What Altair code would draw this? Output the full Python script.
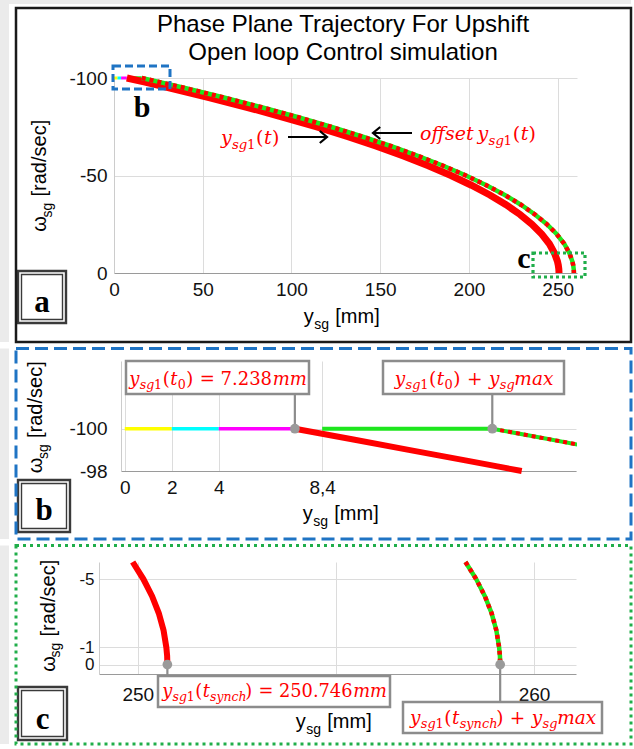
import altair as alt
import pandas as pd

# ---------------- values ----------------
# panel a : full trajectory y_sg1(t)  (omega_sg [rad/sec] vs y_sg [mm])
OMEGA_A = [-100, -98, -95, -90, -85, -80, -75, -70, -65, -60, -55, -50,
           -45, -40, -35, -30, -25, -20, -15, -10, -6, -4, -2, -1, 0]
YSG_A = [7.238, 16.9, 31.0, 53.5, 74.8, 94.9, 113.8, 131.4, 147.9, 163.1, 177.1, 189.9,
         201.4, 211.8, 220.9, 228.8, 235.5, 241.0, 245.3, 248.3, 249.87, 250.36, 250.65, 250.72, 250.746]
# panel b : zoom on the start of the trajectory
OMEGA_B = [-100, -99.5, -99, -98.5, -98]
YSG_B = [7.238, 9.67, 12.08, 14.49, 16.89]
# panel c : zoom on the end of the trajectory
OMEGA_C = [-6, -5, -4, -3, -2, -1, -0.5, 0]
YSG_C = [249.87, 250.14, 250.36, 250.53, 250.65, 250.72, 250.74, 250.746]
# phases before t0 (omega = -100)
PHASES = ["phase 1", "phase 2", "phase 3"]
PHASE_START = [0, 2, 4]
PHASE_END = [2, 4, 7.238]
OMEGA_START = -100
OMEGA_SYNCH = 0
Y_T0 = 7.238
Y_TSYNCH = 250.746
YSG_MAX = 8.4
# ticks
A_XTICKS = [0, 50, 100, 150, 200, 250]
A_YTICKS = [-100, -50, 0]
B_XTICKS = [0, 2, 4, 8.4]
B_YTICKS = [-100, -98]
C_XTICKS = [250, 255, 260]
C_YTICKS = [-5, -1, 0]
TITLE = ["Phase Plane Trajectory For Upshift", "Open loop Control simulation"]

# ---------------- styles ----------------
RED = "#ff0000"
GREEN = "#1ee61e"
PHASE_COLORS = ["#ffff00", "#00ffff", "#ff00ff"]
BLUE = "#1f74c4"
DGREEN = "#20ae4a"
GREY = "#8c8c8c"
SANS = "Liberation Sans"
MATH = "DejaVu Serif"
BOLD = "Liberation Serif"

_DIG = {d: 0.636 for d in "0123456789"}
WID = {
    "mi": {"y": 0.55, "s": 0.48, "g": 0.60, "t": 0.38, "m": 0.90, "a": 0.56, "x": 0.55,
           "n": 0.61, "c": 0.52, "h": 0.61, "o": 0.57, "f": 0.35, "e": 0.55, " ": 0.318},
    "mr": dict(_DIG, **{"(": 0.39, ")": 0.39, "=": 0.838, "+": 0.838, " ": 0.318, ".": 0.318}),
    "sr": {"ω": 0.69, "s": 0.5, "g": 0.556, " ": 0.278, "[": 0.278, "]": 0.278, "r": 0.333,
           "a": 0.556, "d": 0.556, "/": 0.278, "e": 0.556, "c": 0.5, "y": 0.5, "m": 0.833},
}
# key -> (font, style, weight, align)
FONTS = {"mi": (MATH, "italic", "normal", "left"), "mr": (MATH, "normal", "normal", "left"),
         "sr": (SANS, "normal", "normal", "left"), "sc": (SANS, "normal", "normal", "center"),
         "bc": (BOLD, "normal", "bold", "center")}
GAP = 0.6  # px between runs


def tw(text, key, fs):
    return sum(WID[key].get(ch, 0.6) for ch in text) * fs


def runs(tokens, x0, y0, size, color, fam, anchor="middle", angle=0, shift=0.24):
    items = []
    for text, style, sub in tokens:
        fs = size * 0.7 if sub else size
        key = fam + style
        items.append((text, key, sub, fs, tw(text, key, fs) + GAP))
    total = sum(it[4] for it in items)
    u = -total / 2 if anchor == "middle" else 0.0
    rows = []
    for text, key, sub, fs, w in items:
        core = text.strip(" ")
        lead = tw(text[: len(text) - len(text.lstrip(" "))], key, fs)
        v = size * shift if sub else 0.0
        if angle:
            x, y = x0 + v, y0 - (u + lead)
        else:
            x, y = x0 + u + lead, y0 + v
        if core:
            rows.append({"x": x, "y": y, "t": core, "s": fs, "c": color, "a": angle, "k": key})
        u += w
    return rows


def single(text, x, y, size, color, key):
    return [{"x": x, "y": y, "t": text, "s": size, "c": color, "a": 0, "k": key}]


def text_layers(rows):
    df = pd.DataFrame(rows)
    out = []
    for k, (font, style, weight, align) in FONTS.items():
        sub = df[df.k == k].drop(columns="k")
        if len(sub) == 0:
            continue
        out.append(alt.Chart(sub).mark_text(font=font, fontStyle=style, fontWeight=weight,
                                            align=align, baseline="alphabetic").encode(
            x=alt.X("x:Q", scale=None, axis=None), y=alt.Y("y:Q", scale=None, axis=None),
            text="t:N", size=alt.Size("s:Q", scale=None, legend=None),
            color=alt.Color("c:N", scale=None, legend=None), angle=alt.Angle("a:Q", scale=None)))
    return out


def rects(rows, stroke, sw, dash=None, fill="white", fop=1.0):
    df = pd.DataFrame(rows, columns=["x1", "x2", "y1", "y2"])
    kw = dict(stroke=stroke, strokeWidth=sw, fill=fill, fillOpacity=fop)
    if dash:
        kw["strokeDash"] = dash
    return alt.Chart(df).mark_rect(**kw).encode(
        x=alt.X("x1:Q", scale=None, axis=None), x2="x2:Q",
        y=alt.Y("y1:Q", scale=None, axis=None), y2="y2:Q")


def label_box(x1, x2, y1, y2, letter, ly):
    return [rects([[x1, x2, y1, y2]], "#3a3a3a", 2.4),
            rects([[x1 + 3.5, x2 - 3.5, y1 + 3.5, y2 - 3.5]], "#3a3a3a", 1.4, fop=0)] + \
        text_layers(single(letter, (x1 + x2) / 2, ly, 31, "black", "bc"))


def axis(values, pad, offset=0, domain_color="#a8a8a8", label_expr="toString(datum.value)", fs=19):
    kw = dict(values=values, title=None, grid=True, gridColor="#dcdcdc", gridWidth=1, ticks=False,
              domainColor=domain_color, domainWidth=1, labelFont=SANS, labelFontSize=fs,
              labelColor="#111111", labelPadding=pad, labelFlush=False, labelOverlap=False,
              labelExpr=label_expr)
    if offset:
        kw["offset"] = offset
    return alt.Axis(**kw)


DUMMY = pd.DataFrame({"k": [0]})
Y_SG1 = [("y", "i", 0), ("sg", "i", 1), ("1", "r", 1)]
T_A1 = Y_SG1 + [("(", "r", 0), ("t", "i", 0), (")", "r", 0)]
T_A2 = [("offset ", "i", 0)] + T_A1
T_B1 = Y_SG1 + [("(", "r", 0), ("t", "i", 0), ("0", "r", 1), (")", "r", 0),
                (f" = {Y_T0}", "r", 0), ("mm", "i", 0)]
T_B2 = Y_SG1 + [("(", "r", 0), ("t", "i", 0), ("0", "r", 1), (")", "r", 0), (" + ", "r", 0),
                ("y", "i", 0), ("sg", "i", 1), ("max", "i", 0)]
T_C1 = Y_SG1 + [("(", "r", 0), ("t", "i", 0), ("synch", "i", 1), (")", "r", 0),
                (f" = {Y_TSYNCH}", "r", 0), ("mm", "i", 0)]
T_C2 = Y_SG1 + [("(", "r", 0), ("t", "i", 0), ("synch", "i", 1), (")", "r", 0), (" + ", "r", 0),
                ("y", "i", 0), ("sg", "i", 1), ("max", "i", 0)]
Y_TITLE = [("ω", "r", 0), ("sg", "r", 1), (" [rad/sec]", "r", 0)]
X_TITLE = [("y", "r", 0), ("sg", "r", 1), (" [mm]", "r", 0)]


def curve_layers(df, X, Y, red_w, off_w, clip=False):
    off = df.assign(ysg=df.ysg + YSG_MAX)
    return [
        alt.Chart(df).mark_line(color=RED, strokeWidth=red_w).encode(x=X("ysg"), y=Y("omega")),
        alt.Chart(off).mark_line(color=GREEN, strokeWidth=off_w, clip=clip).encode(x=X("ysg"), y=Y("omega")),
        alt.Chart(off).mark_line(color=RED, strokeWidth=off_w, strokeDash=[4, 4], clip=clip).encode(
            x=X("ysg"), y=Y("omega")),
    ]


def start_layers(X, Y, w):
    ph = pd.DataFrame({"phase": PHASES, "start": PHASE_START, "end": PHASE_END,
                       "omega": [OMEGA_START] * len(PHASES)})
    gh = pd.DataFrame({"start": [YSG_MAX], "end": [Y_T0 + YSG_MAX], "omega": [OMEGA_START]})
    return [
        alt.Chart(ph).mark_rule(strokeWidth=w).encode(
            x=X("start"), x2="end", y=Y("omega"),
            color=alt.Color("phase:N", scale=alt.Scale(domain=PHASES, range=PHASE_COLORS), legend=None)),
        alt.Chart(gh).mark_rule(strokeWidth=w + 0.5, color=GREEN).encode(x=X("start"), x2="end", y=Y("omega")),
    ]


def callout_layers(xs_pts, ys_pts, X, Y, y2s):
    out = []
    for xv, yv, y2 in zip(xs_pts, ys_pts, y2s):
        d = pd.DataFrame({"ysg": [xv], "omega": [yv]})
        out.append(alt.Chart(d).mark_rule(color=GREY, strokeWidth=2.2).encode(
            x=X("ysg"), y=Y("omega"), y2=alt.value(y2)))
    d = pd.DataFrame({"ysg": xs_pts, "omega": ys_pts})
    out.append(alt.Chart(d).mark_circle(size=95, color="#9a9a9a", opacity=1).encode(x=X("ysg"), y=Y("omega")))
    return out


def make_enc(xs, ys, xax, yax):
    X = lambda f: alt.X(f, type="quantitative", scale=xs, axis=xax)
    Y = lambda f: alt.Y(f, type="quantitative", scale=ys, axis=yax)
    return X, Y


# ================= panel a =================
Xa, Ya = make_enc(alt.Scale(domain=[0, 260.9], range=[15, 478], nice=False, zero=False),
                  alt.Scale(domain=[-100, 0], reverse=True, nice=False, zero=False),
                  axis(A_XTICKS, 7, domain_color="#9a9a9a"), axis(A_YTICKS, 7, offset=-15, domain_color="#cccccc"))
traj_a = pd.DataFrame({"ysg": YSG_A, "omega": OMEGA_A})
texts_a = (single(TITLE[0], 244, -46, 24, "black", "sc")
           + single(TITLE[1], 244, -18, 24, "black", "sc")
           + runs(T_A1, 122, 66, 19, RED, "m", anchor="start")
           + runs(T_A2, 321, 62, 19, RED, "m", anchor="start")
           + runs(Y_TITLE, -53, 97.5, 20, "black", "s", angle=270, shift=0.28)
           + runs(X_TITLE, 243, 245, 20, "black", "s", shift=0.28)
           + single("b", 43, 39, 30, "black", "bc")
           + single("c", 425, 190, 30, "black", "bc"))
layers_a = (
    [rects([[-99, -90, -78, 264], [-99, 532, -78, -74]], "#ebebeb", 0, fill="#ebebeb")]
    + start_layers(Xa, Ya, 3)
    + curve_layers(traj_a, Xa, Ya, 7, 4.5)
    + [rects([[14, 71, -12, 11]], BLUE, 3, dash=[8, 4], fop=0),
       rects([[434, 486, 175, 199]], DGREEN, 3.2, dash=[3, 3], fop=0),
       alt.Chart(DUMMY).mark_rule(color="black", strokeWidth=2.2).encode(
           x=alt.value(189), x2=alt.value(227), y=alt.value(59)),
       alt.Chart(DUMMY).mark_point(shape="M-1.2,-1L0,0L-1.2,1", filled=False, color="black",
                                   strokeWidth=2.2, size=144, opacity=1).encode(x=alt.value(228), y=alt.value(59)),
       alt.Chart(DUMMY).mark_rule(color="black", strokeWidth=2.2).encode(
           x=alt.value(275), x2=alt.value(313), y=alt.value(55)),
       alt.Chart(DUMMY).mark_point(shape="M1.2,-1L0,0L1.2,1", filled=False, color="black",
                                   strokeWidth=2.2, size=144, opacity=1).encode(x=alt.value(274), y=alt.value(55))]
    + text_layers(texts_a)
    + label_box(-81, -33, 193, 245, "a", 234)
    + [rects([[-83, 532, -70, 264]], "#1a1a1a", 2.5, fop=0)]
)
panel_a = alt.layer(*layers_a).properties(width=478, height=195)

# ================= panel b =================
Xb, Yb = make_enc(alt.Scale(domain=[-0.16, 19.2], range=[22, 477], nice=False, zero=False),
                  alt.Scale(domain=[-103.2, -98], reverse=True, nice=False, zero=False),
                  axis(B_XTICKS, 7.5, domain_color="#9a9a9a",
                       label_expr="datum.value == 8.4 ? '8,4' : toString(datum.value)"),
                  axis(B_YTICKS, 14, offset=-22, domain_color="#cccccc"))
traj_b = pd.DataFrame({"ysg": YSG_B, "omega": OMEGA_B})
texts_b = (runs(T_B1, 118.5, 24, 18, RED, "m")
           + runs(T_B2, 374.5, 24, 18.5, RED, "m")
           + runs(Y_TITLE, -56.6, 56, 20, "black", "s", angle=270, shift=0.28)
           + runs(X_TITLE, 242, 159, 20, "black", "s", shift=0.28))
layers_b = (
    [rects([[-99, -90, -12.5, 178]], "#ebebeb", 0, fill="#ebebeb")]
    + start_layers(Xb, Yb, 3.5)
    + curve_layers(traj_b, Xb, Yb, 6, 4, clip=True)
    + callout_layers([Y_T0, Y_T0 + YSG_MAX], [OMEGA_START, OMEGA_START], Xb, Yb, [33, 33])
    + [rects([[27, 210, 0, 33], [284, 465, 0, 33]], GREY, 2.5)]
    + text_layers(texts_b)
    + label_box(-81, -29, 119, 171, "b", 159)
    + [rects([[-83, 532, -12.5, 178]], BLUE, 3, dash=[13, 6], fop=0)]
)
panel_b = alt.layer(*layers_b).properties(width=478, height=110)

# ================= panel c =================
Xc, Yc = make_enc(alt.Scale(domain=[249.02, 261.06], range=[0, 477], nice=False, zero=False),
                  alt.Scale(domain=[-6, 0.55], reverse=True, nice=False, zero=False),
                  axis(C_XTICKS, 11, domain_color="#9a9a9a",
                       label_expr="datum.value == 255 ? '' : toString(datum.value)"),
                  axis(C_YTICKS, 5, domain_color="#cccccc", fs=17))
traj_c = pd.DataFrame({"ysg": YSG_C, "omega": OMEGA_C})
texts_c = (runs(T_C1, 175, 135, 17.8, RED, "m")
           + runs(T_C2, 403.5, 162, 18.5, RED, "m")
           + runs(Y_TITLE, -44.5, 53.5, 20, "black", "s", angle=270, shift=0.28)
           + runs(X_TITLE, 235, 166, 20, "black", "s", shift=0.28))
layers_c = (
    [rects([[-99, -90, -16.5, 182]], "#ebebeb", 0, fill="#ebebeb")]
    + curve_layers(traj_c, Xc, Yc, 6, 4.5)
    + callout_layers([Y_TSYNCH, Y_TSYNCH + YSG_MAX], [OMEGA_SYNCH, OMEGA_SYNCH], Xc, Yc, [114, 140])
    + [rects([[59, 291, 114, 145], [304, 503, 140, 171]], GREY, 2.5)]
    + text_layers(texts_c)
    + label_box(-81, -32, 125, 178, "c", 167)
    + [rects([[-83, 532, -16.5, 182]], DGREEN, 3, dash=[3, 4], fop=0)]
)
panel_c = alt.layer(*layers_c).properties(width=477, height=112)

chart = (alt.vconcat(panel_a, panel_b, panel_c, spacing=3)
         .properties(padding=0)
         .configure(background="white")
         .configure_view(strokeWidth=0))

chart.save("out.html", embed_options={"renderer": "svg", "actions": False})
